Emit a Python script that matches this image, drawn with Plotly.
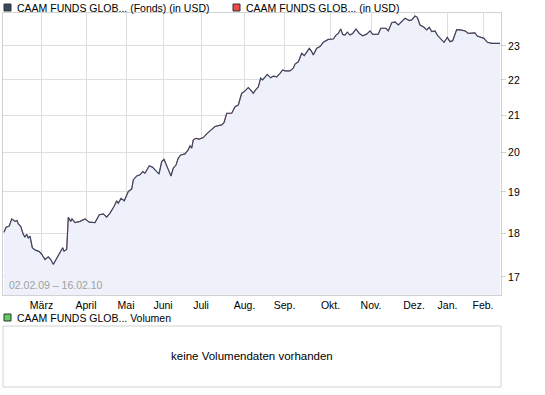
import math
import plotly.graph_objects as go

# Trading-day index (approx.) and fund price in USD
day_idx = [0, 1, 2.65, 3.85, 5.5, 6.5, 7.15, 8.35, 9.65, 10.5, 11.35, 12.15, 13, 14.15, 15.5, 17.65,
           18.85, 20.5, 22.15, 23.35, 24.65, 27.15, 29.35, 30, 31.35, 32.15, 33.35, 34, 35.5, 38, 40.5,
           42.65, 45.5, 47.65, 49.65, 51.35, 53, 55, 56.35, 57.15, 58.5, 60.15, 61.35, 62.15, 63.85,
           64.65, 66.35, 68, 69.35, 70.5, 72.65, 74.35, 76.35, 77.5, 78.85, 80, 81.85, 83.5, 84.65, 86,
           87.15, 88.35, 90.5, 92.15, 93, 93.85, 94.65, 96, 97.65, 99.65, 101.35, 103.85, 105.5, 107.15,
           108.85, 110, 111.35, 113.85, 115.5, 117.15, 118.85, 120, 122.15, 123.35, 124.65, 126, 127.15,
           128.35, 129.35, 131.65, 133.35, 134.65, 136.35, 138, 139.35, 140.5, 143, 144.65, 145.5, 147.15,
           148, 148.85, 150.15, 151.35, 152.65, 153.85, 154.65, 155.5, 156.35, 158, 159.65, 162.15,
           164.65, 166, 167.15, 168.35, 169.35, 170.5, 171.65, 173, 174.35, 176, 177.65, 179.35, 181.35,
           183, 184.35, 187.15, 188.35, 191, 192.15, 193.85, 195.5, 197.15, 198.85, 200.5, 202.65,
           203.85, 205.5, 206.65, 208, 210, 211.35, 212.65, 213.85, 215.5, 216.65, 218.35, 220, 221.65,
           223, 224.35, 226.35, 228, 230.5, 232.15, 233.85, 235.5, 236.65, 238.35, 240, 241.65, 244, 248]
fund_usd = [18.02, 18.14, 18.17, 18.34, 18.28, 18.30, 18.22, 18.16, 17.97, 17.91, 17.97, 17.89, 17.93,
            17.66, 17.61, 17.57, 17.51, 17.39, 17.45, 17.39, 17.28, 17.47, 17.66, 17.58, 17.62, 18.38,
            18.28, 18.34, 18.25, 18.28, 18.34, 18.26, 18.25, 18.44, 18.46, 18.38, 18.48, 18.64, 18.78,
            18.72, 18.84, 18.78, 18.93, 19.01, 19.07, 19.30, 19.40, 19.43, 19.51, 19.47, 19.66, 19.62,
            19.51, 19.45, 19.77, 19.83, 19.60, 19.40, 19.60, 19.68, 19.86, 19.94, 19.97, 20.08, 20.18,
            20.12, 20.34, 20.38, 20.36, 20.40, 20.50, 20.63, 20.70, 20.72, 20.74, 20.80, 21.06, 21.06,
            21.24, 21.29, 21.62, 21.66, 21.78, 21.71, 21.62, 21.73, 21.80, 22.05, 22.00, 22.16, 22.06,
            22.11, 22.09, 22.19, 22.29, 22.26, 22.26, 22.34, 22.46, 22.53, 22.68, 22.78, 22.71, 22.80,
            22.93, 22.83, 22.73, 22.83, 22.93, 22.98, 23.11, 23.20, 23.21, 23.33, 23.38, 23.52, 23.35,
            23.33, 23.42, 23.33, 23.38, 23.52, 23.38, 23.31, 23.36, 23.46, 23.35, 23.36, 23.54, 23.54,
            23.46, 23.71, 23.74, 23.64, 23.74, 23.85, 23.78, 23.80, 23.92, 23.88, 23.64, 23.57, 23.49,
            23.57, 23.44, 23.46, 23.33, 23.23, 23.11, 23.26, 23.13, 23.16, 23.50, 23.49, 23.46, 23.38,
            23.40, 23.40, 23.30, 23.26, 23.23, 23.11, 23.08, 23.08]

month_pos = [18.75, 41, 61, 79.5, 98.5, 120.25, 140.25, 163.25, 183.5, 205, 221.75, 239.5]
month_labels = ["März", "April", "Mai", "Juni", "Juli", "Aug.", "Sep.", "Okt.", "Nov.", "Dez.", "Jan.", "Feb."]
price_ticks = [17, 18, 19, 20, 21, 22, 23]

W, H = 545, 395
L, R, T, B = 3, 501, 13, 387  # overall plotting box in px

def px_x(x):
    return (x - L) / (R - L)

def px_y(y):
    return (B - y) / (B - T)

FONT = "Liberation Sans, Arial, sans-serif"
FS = 10.5
DARK = "#3a4763"
RED = "#ee4a46"
FILL = "#eef1fa"
GRID = "#dedede"
BORDER = "#d2d2d2"

fig = go.Figure()
fig.add_trace(go.Scatter(x=[day_idx[0], day_idx[-1]], y=[16, 16], mode="lines",
                         line=dict(width=0), hoverinfo="skip", showlegend=False))
fig.add_trace(go.Scatter(x=day_idx, y=fund_usd, mode="lines", fill="tonexty", fillcolor=FILL,
                         line=dict(color=RED, width=0.8), hoverinfo="skip", showlegend=False))
fig.add_trace(go.Scatter(x=day_idx, y=fund_usd, mode="lines",
                         line=dict(color=DARK, width=1.2), hoverinfo="skip", showlegend=False))

main_bottom = px_y(295)
fig.update_layout(
    width=W, height=H,
    margin=dict(l=L, r=W - R, t=T, b=H - B),
    paper_bgcolor="white", plot_bgcolor="white",
    font=dict(family=FONT, size=FS, color="#000000"),
    xaxis=dict(range=[-0.5, 248.5], tickvals=month_pos, ticktext=month_labels,
               showgrid=True, gridcolor=GRID, gridwidth=1, zeroline=False,
               showline=True, linecolor=BORDER, mirror=True, ticks="",
               tickfont=dict(size=FS, family=FONT), anchor="y", fixedrange=True),
    yaxis=dict(type="log", range=[math.log10(16.60), math.log10(24.015)],
               domain=[main_bottom, 1], side="right",
               tickvals=price_ticks, ticktext=[str(t) for t in price_ticks],
               showgrid=True, gridcolor=GRID, zeroline=False,
               showline=True, linecolor=BORDER, mirror=True,
               ticks="outside", ticklen=4, tickcolor=BORDER,
               tickfont=dict(size=FS, family=FONT), fixedrange=True),
    showlegend=False,
)

shapes = []
annotations = []
legend_items = [(4, 4, DARK, "CAAM FUNDS GLOB... (Fonds) (in USD)"),
                (233, 4, RED, "CAAM FUNDS GLOB... (in USD)"),
                (4, 314, "#5fcf5f", "CAAM FUNDS GLOB... Volumen")]
for x0, y0, col, txt in legend_items:
    shapes.append(dict(type="rect", xref="paper", yref="paper",
                       x0=px_x(x0), x1=px_x(x0 + 7), y0=px_y(y0), y1=px_y(y0 + 7),
                       fillcolor=col, line=dict(color="#333333", width=1)))
    annotations.append(dict(xref="paper", yref="paper", x=px_x(x0 + 11), y=px_y(y0 + 4),
                            text=txt, showarrow=False, xanchor="left", yanchor="middle",
                            font=dict(size=FS, family=FONT, color="#000000")))
shapes.append(dict(type="rect", xref="paper", yref="paper", x0=0, x1=1,
                   y0=0, y1=px_y(326), line=dict(color=BORDER, width=1), fillcolor="white"))
annotations.append(dict(xref="paper", yref="paper", x=px_x(252), y=px_y(356),
                        text="keine Volumendaten vorhanden", showarrow=False,
                        xanchor="center", yanchor="middle",
                        font=dict(size=11.5, family=FONT, color="#000000")))
annotations.append(dict(xref="paper", yref="paper", x=px_x(7), y=px_y(285),
                        text="02.02.09 – 16.02.10", showarrow=False,
                        xanchor="left", yanchor="middle",
                        font=dict(size=FS, family=FONT, color="#a0a0a0")))
fig.update_layout(shapes=shapes, annotations=annotations)

fig.write_html("out.html", config={"displayModeBar": False, "staticPlot": True},
               post_script="document.body.style.margin='0px';document.body.style.padding='0px';")
